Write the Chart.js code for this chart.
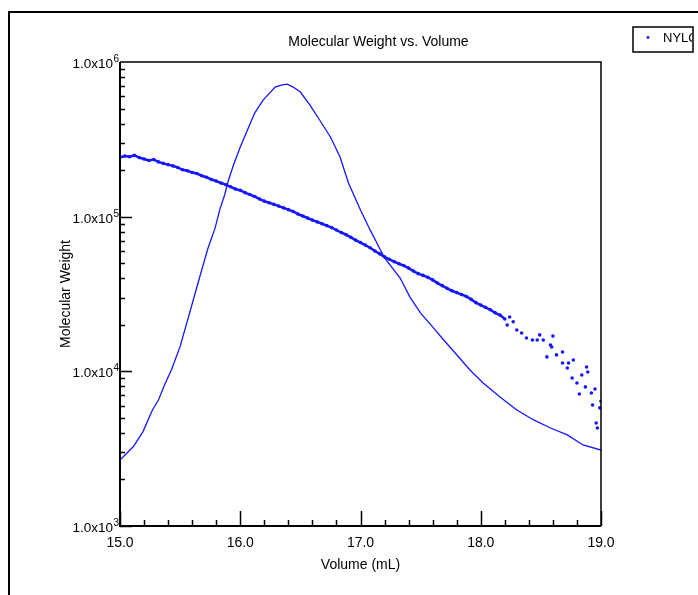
<!DOCTYPE html>
<html>
<head>
<meta charset="utf-8">
<script src="https://cdn.jsdelivr.net/npm/chart.js@4/dist/chart.umd.min.js"></script>
<style>
    html, body { margin: 0; padding: 0; background: #fff; }
    #wrap { width: 698px; height: 595px; position: relative; }
</style>
</head>
<body>
<div id="wrap"><canvas id="mwCanvas"></canvas></div>
<script>
// Detector trace (peak)
const peakVolume = [15.00, 15.11, 15.19, 15.27, 15.32, 15.37, 15.43, 15.50, 15.58, 15.66, 15.73, 15.79,
    15.83, 15.87, 15.90, 15.94, 16.00, 16.06, 16.12, 16.19, 16.29, 16.34, 16.39, 16.44, 16.50, 16.58,
    16.66, 16.75, 16.83, 16.90, 17.00, 17.08, 17.20, 17.33, 17.41, 17.50, 17.60, 17.69, 17.80, 17.91,
    18.02, 18.16, 18.30, 18.44, 18.58, 18.72, 18.85, 19.00];
const peakValue = [2670, 3250, 4060, 5620, 6530, 8170, 10300, 14500, 24000, 40000, 62000, 84000,
    111000, 138000, 170000, 212000, 282000, 363000, 467700, 567500, 688700, 709800, 720000, 688700,
    639000, 527000, 421700, 327300, 243200, 165200, 110400, 82100, 54100, 40100, 30300, 23800, 19400,
    16000, 12800, 10200, 8410, 6830, 5620, 4850, 4300, 3880, 3340, 3100];

// Molecular weight points
const mwVolume = [15.00, 15.04, 15.08, 15.12, 15.16, 15.20, 15.24, 15.28, 15.32, 15.36, 15.40, 15.44,
    15.48, 15.52, 15.56, 15.60, 15.64, 15.68, 15.72, 15.76, 15.80, 15.84, 15.88, 15.92, 15.96, 16.00,
    16.04, 16.08, 16.12, 16.16, 16.20, 16.24, 16.28, 16.32, 16.36, 16.40, 16.44, 16.48, 16.52, 16.56,
    16.60, 16.64, 16.68, 16.72, 16.76, 16.80, 16.84, 16.88, 16.92, 16.96, 17.00, 17.04, 17.08, 17.12,
    17.16, 17.20, 17.24, 17.28, 17.32, 17.36, 17.40, 17.44, 17.48, 17.52, 17.56, 17.60, 17.64, 17.68,
    17.72, 17.76, 17.80, 17.84, 17.88, 17.92, 17.96, 18.00, 18.04, 18.08, 18.12, 18.16, 18.20,
    18.22, 18.24, 18.27, 18.30, 18.34, 18.38, 18.43, 18.47, 18.49, 18.52, 18.55, 18.58, 18.59, 18.60,
    18.63, 18.68, 18.68, 18.72, 18.73, 18.76, 18.77, 18.80, 18.82, 18.84, 18.87, 18.88, 18.89, 18.92,
    18.93, 18.95, 18.96, 18.97, 18.99, 19.00];
const mwValue = [242000, 247000, 244000, 249000, 241000, 236000, 231000, 234000, 226000, 221000, 217000, 213000,
    208000, 201000, 198000, 193000, 190000, 184000, 180000, 174000, 170000, 165000, 161000, 156000, 151000, 148000,
    143000, 139000, 135000, 130000, 126000, 123000, 120000, 117000, 114000, 111000, 108000, 104000, 101000, 98000,
    95000, 92500, 90000, 87500, 85000, 82000, 79000, 76500, 73500, 70500, 68000, 65500, 63000, 60000,
    57500, 55000, 53000, 51200, 49600, 48300, 46500, 44500, 42800, 41700, 40500, 39000, 37200, 35800,
    34400, 33200, 32300, 31400, 30500, 29200, 27800, 26800, 25900, 25000, 23900, 23100, 21800,
    19950, 22450, 20900, 18500, 17700, 16440, 15960, 15960, 17200, 15960, 12400, 14800, 14360, 16900,
    12770, 13350, 11330, 10520, 11330, 9060, 11830, 8410, 7130, 9460, 7930, 10670, 9900, 7250,
    6060, 7690, 4630, 4300, 5800, 6400];

// Axis labels
const xTickValues = [15, 16, 17, 18, 19];
const xTickLabels = ['15.0', '16.0', '17.0', '18.0', '19.0'];
const yTickExponents = [3, 4, 5, 6];

const blue = 'rgb(22,22,255)';
const font = '"Liberation Sans", Arial, sans-serif';

document.addEventListener('DOMContentLoaded', () => {
    const ctx = document.getElementById('mwCanvas').getContext('2d');

    // Frame, box, ticks, labels and legend drawn on top of the chart
    const decorPlugin = {
        id: 'decor',
        afterDraw(chart) {
            const c = chart.ctx;
            const a = chart.chartArea;
            const xs = chart.scales.x;
            const ys = chart.scales.y;
            c.save();
            c.strokeStyle = '#000';
            c.fillStyle = '#000';

            // outer frame (top and left only visible)
            c.lineWidth = 2;
            c.beginPath();
            c.moveTo(9, 595);
            c.lineTo(9, 12);
            c.lineTo(698, 12);
            c.stroke();

            // plot box
            c.lineWidth = 1.5;
            c.beginPath();
            c.moveTo(a.left, a.top);
            c.lineTo(a.right, a.top);
            c.lineTo(a.right, a.bottom);
            c.stroke();
            c.lineWidth = 2;
            c.beginPath();
            c.moveTo(a.left, a.top);
            c.lineTo(a.left, a.bottom);
            c.lineTo(a.right, a.bottom);
            c.stroke();

            // x ticks (inside)
            c.lineWidth = 1.5;
            for (let i = 0; i <= 20; i++) {
                const v = 15 + i * 0.2;
                const px = Math.round(xs.getPixelForValue(v)) + 0.5;
                const len = i % 5 === 0 ? 15 : 6;
                c.beginPath();
                c.moveTo(px, a.bottom);
                c.lineTo(px, a.bottom - len);
                c.stroke();
            }

            // y ticks (log, inside)
            for (let e = 3; e < 6; e++) {
                for (let m = 1; m <= 9; m++) {
                    const py = Math.round(ys.getPixelForValue(m * Math.pow(10, e))) + 0.5;
                    const len = m === 1 ? 12 : 5;
                    c.beginPath();
                    c.moveTo(a.left, py);
                    c.lineTo(a.left + len, py);
                    c.stroke();
                }
            }

            // x tick labels
            c.font = '14px ' + font;
            c.textAlign = 'center';
            c.textBaseline = 'alphabetic';
            xTickValues.forEach((v, i) => {
                c.fillText(xTickLabels[i], xs.getPixelForValue(v), a.bottom + 21);
            });

            // y tick labels with superscript exponent
            yTickExponents.forEach(e => {
                const py = ys.getPixelForValue(Math.pow(10, e));
                c.font = '10px ' + font;
                c.textAlign = 'right';
                const supW = c.measureText(String(e)).width;
                c.fillText(String(e), a.left - 1, py);
                c.font = '13.5px ' + font;
                c.fillText('1.0x10', a.left - 1.5 - supW, py + 6);
            });

            // titles
            c.textAlign = 'center';
            c.font = '14px ' + font;
            c.fillText('Molecular Weight vs. Volume', (a.left + a.right) / 2 + 18, 46);
            c.fillText('Volume (mL)', (a.left + a.right) / 2, a.bottom + 43);
            c.save();
            c.translate(70, (a.top + a.bottom) / 2);
            c.rotate(-Math.PI / 2);
            c.fillText('Molecular Weight', 0, 0);
            c.restore();

            // legend box, text clipped at its right edge
            c.lineWidth = 1.5;
            c.strokeRect(633, 27, 60, 25);
            c.save();
            c.beginPath();
            c.rect(633, 27, 59, 25);
            c.clip();
            c.font = '13px ' + font;
            c.textAlign = 'left';
            c.fillText(chart.data.datasets[1].label, 663, 42);
            c.restore();
            c.fillStyle = blue;
            c.beginPath();
            c.arc(648, 37.5, 1.4, 0, Math.PI * 2);
            c.fill();

            c.restore();
        }
    };

    const chartConfig = {
        type: 'scatter',
        data: {
            datasets: [
                {
                    label: 'Detector',
                    data: peakVolume.map((v, i) => ({ x: v, y: peakValue[i] })),
                    showLine: true,
                    borderColor: blue,
                    borderWidth: 1.3,
                    pointRadius: 0,
                    tension: 0
                },
                {
                    label: 'NYLON',
                    data: mwVolume.map((v, i) => ({ x: v, y: mwValue[i] })),
                    showLine: true,
                    borderColor: blue,
                    borderWidth: 2.5,
                    segment: {
                        borderColor: s => s.p0.parsed.x >= 18.19 ? 'transparent' : blue
                    },
                    pointRadius: 1.8,
                    pointBorderWidth: 0,
                    pointBackgroundColor: blue,
                    tension: 0
                }
            ]
        },
        options: {
            responsive: true,
            maintainAspectRatio: false,
            animation: false,
            layout: { padding: { left: 120, right: 97, top: 62, bottom: 69 } },
            plugins: {
                legend: { display: false },
                title: { display: false },
                tooltip: { enabled: false }
            },
            scales: {
                x: { type: 'linear', min: 15, max: 19, display: false },
                y: { type: 'logarithmic', min: 1000, max: 1000000, display: false }
            }
        },
        plugins: [decorPlugin]
    };

    new Chart(ctx, chartConfig);
});
</script>
</body>
</html>
